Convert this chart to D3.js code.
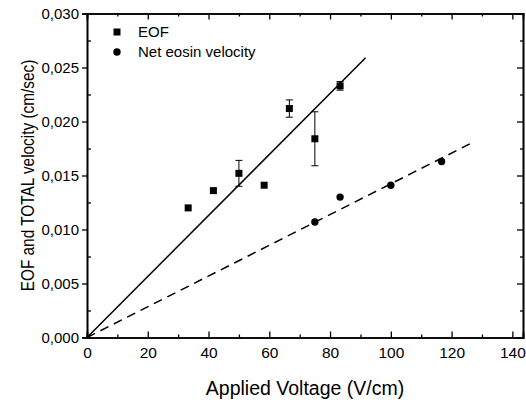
<!DOCTYPE html>
<html>
<head>
<meta charset="utf-8">
<script src="https://cdn.jsdelivr.net/npm/d3@7"></script>
<style>
  body { margin: 0; background: #fff; }
  text { font-family: "Liberation Sans", Arial, sans-serif; fill: #000; }
</style>
</head>
<body>
<script>
// EOF data (squares) with error bars
var eofX = [33.3, 41.6, 50, 58.3, 66.6, 75, 83.3];
var eofY = [0.0120, 0.0136, 0.0152, 0.0141, 0.0212, 0.0184, 0.0233];
var eofErr = [0, 0, 0.0012, 0, 0.0008, 0.0025, 0.0004];

// net eosin velocity (circles)
var eosinX = [75, 83.3, 100, 116.7];
var eosinY = [0.0107, 0.0130, 0.0141, 0.0163];

// linear fits through origin
var eofFitX = [0, 91.7], eofFitY = [0, 0.0259];
var eosinFitX = [0, 126.5], eosinFitY = [0, 0.0180];

var xTicks = [0, 20, 40, 60, 80, 100, 120, 140];
var yTicks = [0, 0.005, 0.010, 0.015, 0.020, 0.025, 0.030];
var legendNames = ["EOF", "Net eosin velocity"];

var width = 526, height = 402;
var margin = {top: 13.5, right: 3, bottom: 64.5, left: 87};

var svg = d3.select("body").append("svg")
    .attr("width", width)
    .attr("height", height);

//scales
var x = d3.scaleLinear().domain([0, 143.5]).range([margin.left, width - margin.right]);
var y = d3.scaleLinear().domain([0, 0.030]).range([height - margin.bottom, margin.top]);

var fmt = function(d){ return d3.format(".3f")(d).replace(".", ","); };
var xMinor = d3.range(10, 143, 20);
var yMinor = d3.range(0.0025, 0.030, 0.005);

//bottom axis, ticks inward
svg.append("g")
    .attr("transform", "translate(0," + y(0) + ")")
    .call(d3.axisBottom(x).tickValues(xTicks).tickSize(-6).tickPadding(9).tickFormat(d3.format("d")))
    .call(function(g){ g.selectAll("text").attr("font-size", 15.5); });
svg.append("g")
    .attr("transform", "translate(0," + y(0) + ")")
    .call(d3.axisBottom(x).tickValues(xMinor).tickSize(-3).tickFormat(""));

//top axis
svg.append("g")
    .attr("transform", "translate(0," + y(0.030) + ")")
    .call(d3.axisTop(x).tickValues(xTicks).tickSize(-6).tickFormat(""));
svg.append("g")
    .attr("transform", "translate(0," + y(0.030) + ")")
    .call(d3.axisTop(x).tickValues(xMinor).tickSize(-3).tickFormat(""));

//left axis, major outward, minor inward
svg.append("g")
    .attr("transform", "translate(" + x(0) + ",0)")
    .call(d3.axisLeft(y).tickValues(yTicks).tickSize(5).tickPadding(3).tickFormat(fmt))
    .call(function(g){ g.selectAll("text").attr("font-size", 15); });
svg.append("g")
    .attr("transform", "translate(" + x(0) + ",0)")
    .call(d3.axisLeft(y).tickValues(yMinor).tickSize(-4).tickFormat(""));

//right axis
svg.append("g")
    .attr("transform", "translate(" + x(143.5) + ",0)")
    .call(d3.axisRight(y).tickValues(yTicks).tickSize(-6).tickFormat(""));
svg.append("g")
    .attr("transform", "translate(" + x(143.5) + ",0)")
    .call(d3.axisRight(y).tickValues(yMinor).tickSize(-3).tickFormat(""));

svg.selectAll(".domain").attr("stroke-width", 1.6);
svg.selectAll(".tick line").attr("stroke-width", 1.3);

//fit lines
var line = d3.line().x(function(d){ return x(d[0]); }).y(function(d){ return y(d[1]); });
svg.append("path")
    .datum(d3.zip(eofFitX, eofFitY))
    .attr("d", line)
    .attr("fill", "none")
    .attr("stroke", "#000")
    .attr("stroke-width", 1.5);
svg.append("path")
    .datum(d3.zip(eosinFitX, eosinFitY))
    .attr("d", line)
    .attr("fill", "none")
    .attr("stroke", "#000")
    .attr("stroke-width", 1.5)
    .attr("stroke-dasharray", "9,6");

//error bars
var eof = d3.range(eofX.length).map(function(i){ return {x: eofX[i], y: eofY[i], e: eofErr[i]}; });
var bars = svg.selectAll(".err")
    .data(eof.filter(function(d){ return d.e > 0; }))
    .enter().append("g")
    .attr("class", "err")
    .attr("stroke", "#000")
    .attr("stroke-width", 1);
bars.append("line")
    .attr("x1", function(d){ return x(d.x); }).attr("x2", function(d){ return x(d.x); })
    .attr("y1", function(d){ return y(d.y + d.e); }).attr("y2", function(d){ return y(d.y - d.e); });
bars.append("line")
    .attr("x1", function(d){ return x(d.x) - 3.5; }).attr("x2", function(d){ return x(d.x) + 3.5; })
    .attr("y1", function(d){ return y(d.y + d.e); }).attr("y2", function(d){ return y(d.y + d.e); });
bars.append("line")
    .attr("x1", function(d){ return x(d.x) - 3.5; }).attr("x2", function(d){ return x(d.x) + 3.5; })
    .attr("y1", function(d){ return y(d.y - d.e); }).attr("y2", function(d){ return y(d.y - d.e); });

//squares
svg.selectAll(".sq")
    .data(eof)
    .enter().append("rect")
    .attr("class", "sq")
    .attr("x", function(d){ return x(d.x) - 3.5; })
    .attr("y", function(d){ return y(d.y) - 3.5; })
    .attr("width", 7).attr("height", 7)
    .attr("fill", "#000");

//circles
svg.selectAll(".dot")
    .data(d3.zip(eosinX, eosinY))
    .enter().append("circle")
    .attr("class", "dot")
    .attr("cx", function(d){ return x(d[0]); })
    .attr("cy", function(d){ return y(d[1]); })
    .attr("r", 3.7)
    .attr("fill", "#000");

//legend
var legend = svg.append("g").attr("transform", "translate(117,32)");
legend.append("rect").attr("x", -3.5).attr("y", -3.5).attr("width", 7).attr("height", 7).attr("fill", "#000");
legend.append("circle").attr("cx", 0).attr("cy", 20).attr("r", 3.7).attr("fill", "#000");
legend.selectAll("text")
    .data(legendNames)
    .enter().append("text")
    .attr("x", 21)
    .attr("y", function(d, i){ return i * 20; })
    .attr("dy", "0.35em")
    .attr("font-size", 15)
    .text(function(d){ return d; });

//axis titles
svg.append("text")
    .attr("x", (x(0) + x(143.5)) / 2)
    .attr("y", 395)
    .attr("text-anchor", "middle")
    .attr("font-size", 19.5)
    .text("Applied Voltage (V/cm)");
//y title is squeezed along its baseline like the original
svg.append("text")
    .attr("transform", "translate(34," + (y(0) + y(0.030)) / 2 + ") rotate(-90) scale(0.83,1)")
    .attr("text-anchor", "middle")
    .attr("font-size", 18.5)
    .text("EOF and TOTAL velocity (cm/sec)");
</script>
</body>
</html>
